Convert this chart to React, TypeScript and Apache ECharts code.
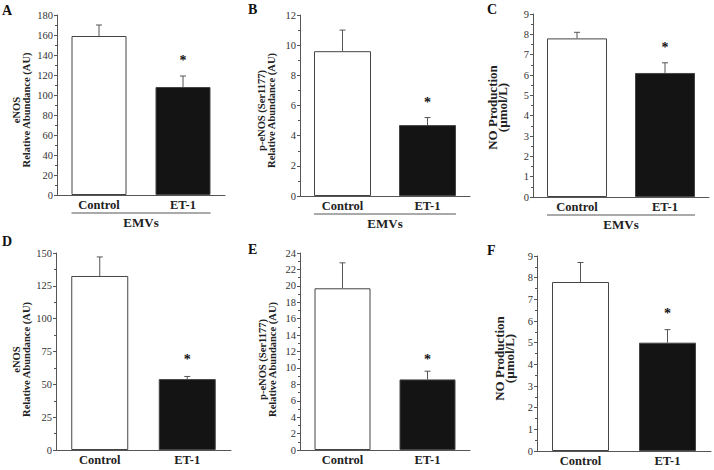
import React, { useEffect, useRef } from "react";
import * as echarts from "echarts";

// ---- data ----
const categories = ["Control", "ET-1"];
const panelLetters = ["A", "B", "C", "D", "E", "F"];
const yTitles = [
  "eNOS\nRelative Abundance (AU)",
  "p-eNOS (Ser1177)\nRelative Abundance (AU)",
  "NO Production\n(µmol/L)",
  "eNOS\nRelative Abundance (AU)",
  "p-eNOS (Ser1177)\nRelative Abundance (AU)",
  "NO Production\n(µmol/L)",
];
const groupLabel = "EMVs";

const meansA = [159, 108];
const errTopA = [170, 119];
const meansB = [9.6, 4.7];
const errTopB = [11.0, 5.2];
const meansC = [7.8, 6.1];
const errTopC = [8.1, 6.6];
const meansD = [132.5, 54];
const errTopD = [147, 56];
const meansE = [19.7, 8.6];
const errTopE = [22.8, 9.6];
const meansF = [7.8, 5.0];
const errTopF = [8.7, 5.6];

// significance marks (value where the asterisk sits) over ET-1
const sigA = 138;
const sigB = 6.4;
const sigC = 7.5;
const sigD = 71;
const sigE = 11.4;
const sigF = 6.5;

const yMaxes = [180, 12, 9, 150, 24, 9];
const yIntervals = [20, 2, 1, 25, 2, 1];

const means = [meansA, meansB, meansC, meansD, meansE, meansF];
const errTops = [errTopA, errTopB, errTopC, errTopD, errTopE, errTopF];
const sigs = [sigA, sigB, sigC, sigD, sigE, sigF];

// ---- layout (styles only) ----
const grids = [
  { left: 57, top: 15, width: 168, height: 180 },
  { left: 300, top: 15, width: 170, height: 181 },
  { left: 533, top: 14, width: 176, height: 183 },
  { left: 56, top: 253, width: 175, height: 197 },
  { left: 300, top: 253, width: 170, height: 197 },
  { left: 537, top: 256, width: 174, height: 195 },
];
const barWidths = [55, 57, 60, 57, 56, 57];
const titleGaps = [26, 24, 26, 25, 23, 23];
const titleSizes = [10.5, 10.5, 13, 10.5, 10.5, 13];
const titleLineHeights = [9.5, 9.5, 10, 9.5, 9.5, 10];
const titleShift = [5, 5, 2, 8, 8, 5];
const letterPos = [
  [2, 10],
  [248, 9],
  [487, 9],
  [2, 241],
  [248, 249],
  [487, 250],
];

const SERIF = "'Liberation Serif', 'Times New Roman', serif";
const AXIS_COLOR = "#555";
const TEXT_COLOR = "#222";

export default function App() {
  const ref = useRef<HTMLDivElement>(null);

  useEffect(() => {
    if (!ref.current) return;
    const chart = echarts.init(ref.current, undefined, { renderer: "svg" });

    const xAxes: any[] = [];
    const yAxes: any[] = [];
    const series: any[] = [];

    for (let i = 0; i < 6; i++) {
      const topRow = i < 3;
      xAxes.push({
        type: "category",
        gridIndex: i,
        data: categories,
        axisLine: { show: true, lineStyle: { color: AXIS_COLOR, width: 1 } },
        axisTick: { show: false },
        axisLabel: {
          margin: 3,
          fontFamily: SERIF,
          fontWeight: "bold",
          fontSize: 12.5,
          color: TEXT_COLOR,
        },
        name: topRow ? groupLabel : "",
        nameLocation: "middle",
        nameGap: 21,
        nameTextStyle: {
          fontFamily: SERIF,
          fontWeight: "bold",
          fontSize: 13,
          color: TEXT_COLOR,
        },
      });
      yAxes.push({
        type: "value",
        gridIndex: i,
        min: 0,
        max: yMaxes[i],
        interval: yIntervals[i],
        axisLine: { show: true, lineStyle: { color: AXIS_COLOR, width: 1 } },
        axisTick: { show: true, length: 3, lineStyle: { color: AXIS_COLOR } },
        minorTick: { show: true, splitNumber: 2, length: 2, lineStyle: { color: AXIS_COLOR } },
        splitLine: { show: false },
        minorSplitLine: { show: false },
        axisLabel: {
          margin: 4,
          fontFamily: SERIF,
          fontSize: 10.5,
          color: "#333",
        },
      });

      series.push({
        type: "bar",
        xAxisIndex: i,
        yAxisIndex: i,
        barWidth: barWidths[i],
        data: means[i].map((v, k) => ({
          value: v,
          itemStyle: {
            color: k === 0 ? "#ffffff" : "#141414",
            borderColor: "#444",
            borderWidth: 1,
          },
        })),
        z: 2,
      });

      series.push({
        type: "custom",
        xAxisIndex: i,
        yAxisIndex: i,
        encode: { x: 0, y: [1, 2] },
        data: means[i].map((v, k) => [k, v, errTops[i][k]]),
        renderItem: (_params: any, api: any) => {
          const x = api.value(0);
          const lo = api.coord([x, api.value(1)]);
          const hi = api.coord([x, api.value(2)]);
          const st = { stroke: "#555", lineWidth: 1 };
          return {
            type: "group",
            children: [
              { type: "line", shape: { x1: lo[0], y1: lo[1], x2: hi[0], y2: hi[1] }, style: st },
              { type: "line", shape: { x1: hi[0] - 3, y1: hi[1], x2: hi[0] + 3, y2: hi[1] }, style: st },
            ],
          };
        },
        z: 3,
      });
    }

    const letterGraphics: any[] = panelLetters.map((L, i) => ({
      id: "letter" + i,
      type: "text",
      x: letterPos[i][0],
      y: letterPos[i][1],
      style: {
        text: L,
        fontFamily: SERIF,
        fontWeight: "bold",
        fontSize: 14,
        fill: "#111",
        textVerticalAlign: "middle",
      },
    }));

    const titleGraphics: any[] = yTitles.map((t, i) => {
      const g = grids[i];
      return {
        id: "ytitle" + i,
        type: "text",
        x: g.left - titleGaps[i],
        y: g.top + g.height / 2 + titleShift[i],
        rotation: Math.PI / 2,
        style: {
          text: t,
          fontFamily: SERIF,
          fontWeight: "bold",
          fontSize: titleSizes[i],
          lineHeight: titleLineHeights[i],
          fill: TEXT_COLOR,
          textAlign: "center",
          textVerticalAlign: "bottom",
        },
      };
    });

    chart.setOption({
      animation: false,
      backgroundColor: "#ffffff",
      grid: grids.map((g) => ({ ...g, containLabel: false })),
      xAxis: xAxes,
      yAxis: yAxes,
      series,
      graphic: [...letterGraphics, ...titleGraphics],
    });

    // group underline beneath the top-row category labels, and significance asterisks
    const extras: any[] = [];
    for (let i = 0; i < 6; i++) {
      const c0 = chart.convertToPixel({ xAxisIndex: i } as any, categories[0]) as any as number;
      const c1 = chart.convertToPixel({ xAxisIndex: i } as any, categories[1]) as any as number;
      const y0 = chart.convertToPixel({ yAxisIndex: i } as any, 0) as any as number;
      const ys = chart.convertToPixel({ yAxisIndex: i } as any, sigs[i]) as any as number;
      const hw = barWidths[i] / 2;
      if (i < 3) {
        extras.push({
          id: "grp" + i,
          type: "line",
          shape: { x1: c0 - hw, y1: y0 + 18, x2: c1 + hw, y2: y0 + 18 },
          style: { stroke: "#555", lineWidth: 1 },
        });
      }
      extras.push({
        id: "sig" + i,
        type: "text",
        x: c1,
        y: ys + 3,
        style: {
          text: "*",
          fill: "#111",
          fontFamily: SERIF,
          fontWeight: "bold",
          fontSize: 14,
          textAlign: "center",
          textVerticalAlign: "middle",
        },
      });
    }
    chart.setOption({ graphic: [...letterGraphics, ...titleGraphics, ...extras] });

    return () => chart.dispose();
  }, []);

  return (
    <div
      ref={ref}
      style={{ position: "fixed", left: 0, top: 0, width: 714, height: 470, background: "#fff" }}
    />
  );
}
